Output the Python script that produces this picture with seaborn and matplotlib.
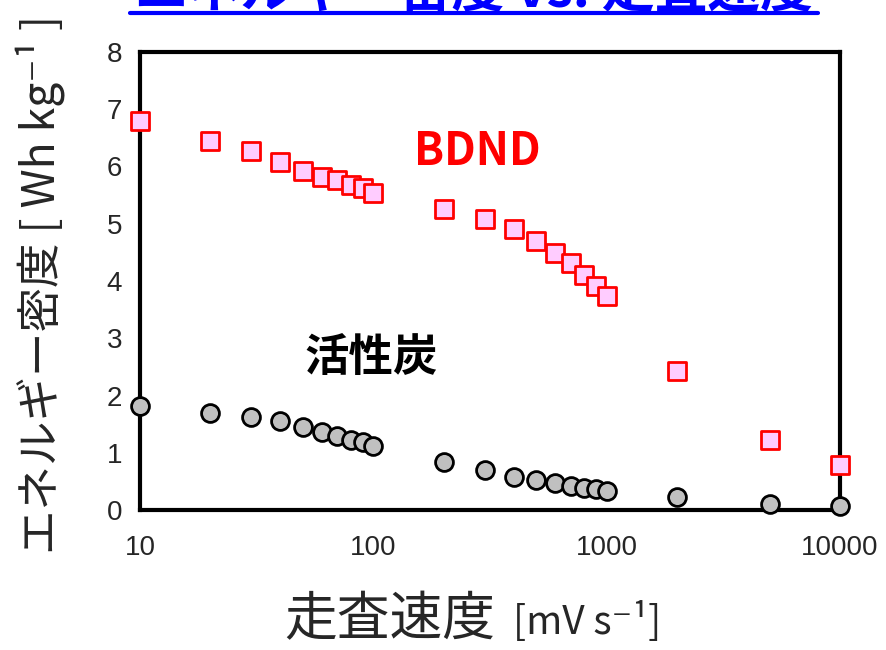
import matplotlib
matplotlib.use("Agg")
import matplotlib.pyplot as plt
from matplotlib.lines import Line2D
import matplotlib.ticker as mticker
import pandas as pd
import seaborn as sns

# scan rates [mV/s] and energy densities [Wh/kg]
scan_rate = [10, 20, 30, 40, 50, 60, 70, 80, 90, 100,
             200, 300, 400, 500, 600, 700, 800, 900, 1000,
             2000, 5000, 10000]
bdnd = [6.79, 6.44, 6.27, 6.07, 5.93, 5.81, 5.77, 5.67, 5.62, 5.54,
        5.26, 5.09, 4.90, 4.70, 4.49, 4.32, 4.11, 3.92, 3.74,
        2.42, 1.23, 0.79]
carbon = [1.81, 1.70, 1.63, 1.55, 1.45, 1.37, 1.29, 1.22, 1.18, 1.11,
          0.83, 0.69, 0.58, 0.52, 0.47, 0.42, 0.38, 0.36, 0.34,
          0.23, 0.11, 0.07]

title = "エネルギー密度 vs. 走査速度"
ylabel = "エネルギー密度 [ Wh kg⁻¹ ]"

sns.set_style("white")
plt.rcParams['font.family'] = ['Liberation Sans', 'Noto Sans CJK JP', 'DejaVu Sans']
JP = ['Noto Sans CJK JP', 'DejaVu Sans']

df = pd.DataFrame({"rate": scan_rate, "bdnd": bdnd, "carbon": carbon})

fig = plt.figure(figsize=(8.86, 6.5), dpi=100)
ax = fig.add_axes([140 / 886, 1 - 510 / 650, 700 / 886, 458 / 650])

sns.scatterplot(data=df, x="rate", y="carbon", ax=ax, marker="o", s=165,
                color="#C0C0C0", edgecolor="black", linewidth=2, clip_on=False, zorder=3)
sns.scatterplot(data=df, x="rate", y="bdnd", ax=ax, marker="s", s=175,
                color="#FFCCFF", edgecolor="#FF0000", linewidth=2, clip_on=False, zorder=4)

ax.set_xscale("log")
ax.set_xlim(10, 10000)
ax.set_ylim(0, 8)
ax.set_yticks(range(0, 9))
ax.xaxis.set_major_formatter(mticker.FuncFormatter(lambda v, p: f"{int(v)}"))
ax.xaxis.set_minor_locator(mticker.LogLocator(base=10, subs=range(2, 10)))
ax.xaxis.set_minor_formatter(mticker.NullFormatter())

for sp in ax.spines.values():
    sp.set_linewidth(3)
    sp.set_color("black")

ax.tick_params(axis="both", which="both", direction="in", width=2.5, color="black")
ax.tick_params(axis="both", which="major", length=7, labelsize=20)
ax.tick_params(axis="x", which="minor", length=7)
ax.tick_params(axis="x", which="major", pad=18)
ax.tick_params(axis="y", which="major", pad=13)
ax.tick_params(top=False, right=False)

ax.set_xlabel("")
ax.set_ylabel("")

# axis titles
fig.text(495 / 886, 1 - 620 / 650, "走査速度", family=JP, fontsize=38, ha="right", va="center")
fig.text(513 / 886, 1 - 623 / 650, "[mV s⁻¹]", family=JP, fontsize=28, ha="left", va="center")
fig.text(40 / 886, 1 - 285 / 650, ylabel, family=JP, fontsize=32, rotation=90,
         ha="center", va="center")

# series labels
ax.text(279, 6.26, "BDND", family=JP, fontsize=32, weight="bold", color="#FF0000",
        ha="center", va="center")
ax.text(98, 2.65, "活性炭", family=JP, fontsize=32, weight="bold", color="black",
        ha="center", va="center")

# title, cut off at the top of the image as in the source
fig.text(474 / 886, 1 - 7 / 650, title, family=JP, fontsize=38, weight="bold",
         color="#0000FF", ha="center", va="baseline")
fig.add_artist(Line2D([130 / 886, 818 / 886], [1 - 13 / 650, 1 - 13 / 650],
                      color="#0000FF", linewidth=3, transform=fig.transFigure))

fig.savefig("out.png", dpi=100)
